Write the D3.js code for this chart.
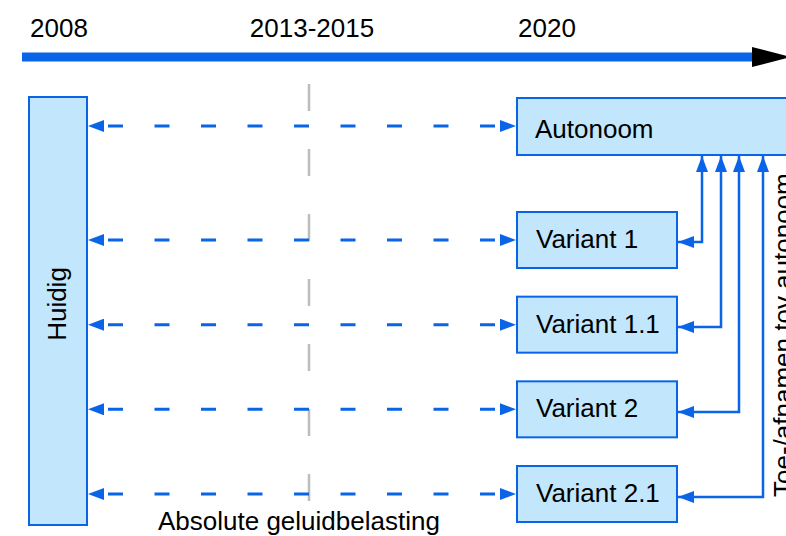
<!DOCTYPE html>
<html>
<head>
<meta charset="utf-8">
<script src="https://cdn.jsdelivr.net/npm/d3@7"></script>
<style>
  html, body { margin: 0; padding: 0; background: #fff; }
  svg { display: block; font-family: "Liberation Sans", Arial, sans-serif; }
</style>
</head>
<body>
<div id="chart"></div>
<script>
// Diagram content
const periods = ['2008', '2013-2015', '2020'];
const periodAnchor = ['start', 'middle', 'start'];
const baseLabel = 'Autonoom';
const currentLabel = 'Huidig';
const variants = ['Variant 1', 'Variant 1.1', 'Variant 2', 'Variant 2.1'];
const bottomLabel = 'Absolute geluidbelasting';
const sideLabel = 'Toe-/afnamen tov autonoom';

const W = 786, H = 536;
const blue = '#0a64e8';
const fill = '#c2e6fc';
const fontSize = 26;

const svg = d3.select('#chart').append('svg')
    .attr('width', W)
    .attr('height', H);

// Markers
const defs = svg.append('defs');
defs.append('marker')
    .attr('id', 'head')
    .attr('markerUnits', 'userSpaceOnUse')
    .attr('viewBox', '0 0 16 12')
    .attr('refX', 16).attr('refY', 6)
    .attr('markerWidth', 16).attr('markerHeight', 12)
    .attr('orient', 'auto-start-reverse')
  .append('path')
    .attr('d', 'M0,0L16,6L0,12Z')
    .attr('fill', blue);

// Scales
const xPeriod = d3.scaleOrdinal().domain(periods).range([29, 309, 517]);
const yVariant = d3.scalePoint().domain(variants).range([240, 494]);
const yConnector = d3.scalePoint().domain(variants).range([242, 497]);
const xConnector = d3.scaleOrdinal().domain(variants).range([702, 721, 739, 763]);

const axisY = 57;
const boxX = xPeriod('2020');
const boxW = 160, boxH = 56;
const autoY = 126;

// Timeline
svg.append('line')
    .attr('x1', 22).attr('x2', 758)
    .attr('y1', axisY).attr('y2', axisY)
    .attr('stroke', blue)
    .attr('stroke-width', 9);

svg.append('path')
    .attr('d', `M752,${axisY - 10}L791,${axisY}L752,${axisY + 10}Z`)
    .attr('fill', '#000');

svg.selectAll('text.period')
    .data(periods)
  .enter().append('text')
    .attr('class', 'period')
    .attr('x', (d, i) => xPeriod(d) + (i === 1 ? 3 : 1))
    .attr('y', 37)
    .attr('text-anchor', (d, i) => periodAnchor[i])
    .style('font-size', fontSize + 'px')
    .text(d => d);

// Grey reference line for middle period
svg.append('line')
    .attr('x1', xPeriod('2013-2015')).attr('x2', xPeriod('2013-2015'))
    .attr('y1', 84).attr('y2', 502)
    .attr('stroke', '#bdbdbd')
    .attr('stroke-width', 2.5)
    .attr('stroke-dasharray', '27,38');

// Huidig box
const huidig = { x: 29, y: 97, w: 58, h: 428 };
svg.append('rect')
    .attr('x', huidig.x).attr('y', huidig.y)
    .attr('width', huidig.w).attr('height', huidig.h)
    .attr('fill', fill)
    .attr('stroke', blue)
    .attr('stroke-width', 2);

svg.append('text')
    .attr('transform', `translate(66,304) rotate(-90)`)
    .attr('text-anchor', 'middle')
    .style('font-size', fontSize + 'px')
    .text(currentLabel);

// Autonoom box
svg.append('rect')
    .attr('x', boxX).attr('y', 98)
    .attr('width', 300).attr('height', 57)
    .attr('fill', fill)
    .attr('stroke', blue)
    .attr('stroke-width', 2);

svg.append('text')
    .attr('x', boxX + 18)
    .attr('y', autoY + 12)
    .style('font-size', fontSize + 'px')
    .text(baseLabel);

// Dashed two-way arrows
const rows = [autoY].concat(variants.map(v => yVariant(v)));
svg.selectAll('line.dash')
    .data(rows)
  .enter().append('line')
    .attr('class', 'dash')
    .attr('x1', huidig.x + huidig.w + 1)
    .attr('x2', boxX - 1)
    .attr('y1', d => d).attr('y2', d => d)
    .attr('stroke', blue)
    .attr('stroke-width', 3)
    .attr('stroke-dasharray', '0,20,15,11.5')
    .attr('marker-start', 'url(#head)')
    .attr('marker-end', 'url(#head)');

// Variant boxes
const vg = svg.selectAll('g.variant')
    .data(variants)
  .enter().append('g')
    .attr('class', 'variant');

vg.append('rect')
    .attr('x', boxX)
    .attr('y', d => yVariant(d) - boxH / 2)
    .attr('width', boxW)
    .attr('height', boxH)
    .attr('fill', fill)
    .attr('stroke', blue)
    .attr('stroke-width', 2);

vg.append('text')
    .attr('x', boxX + 19)
    .attr('y', d => yVariant(d) + 8)
    .style('font-size', fontSize + 'px')
    .text(d => d);

// Connectors from variants up to Autonoom
svg.selectAll('path.conn')
    .data(variants)
  .enter().append('path')
    .attr('class', 'conn')
    .attr('d', d => `M${boxX + boxW + 1},${yConnector(d)}H${xConnector(d)}V156`)
    .attr('fill', 'none')
    .attr('stroke', blue)
    .attr('stroke-width', 2.5)
    .attr('marker-start', 'url(#head)')
    .attr('marker-end', 'url(#head)');

// Labels
svg.append('text')
    .attr('x', 158)
    .attr('y', 530)
    .style('font-size', fontSize + 'px')
    .text(bottomLabel);

svg.append('text')
    .attr('transform', 'translate(792,497) rotate(-90)')
    .style('font-size', fontSize + 'px')
    .text(sideLabel);
</script>
</body>
</html>
